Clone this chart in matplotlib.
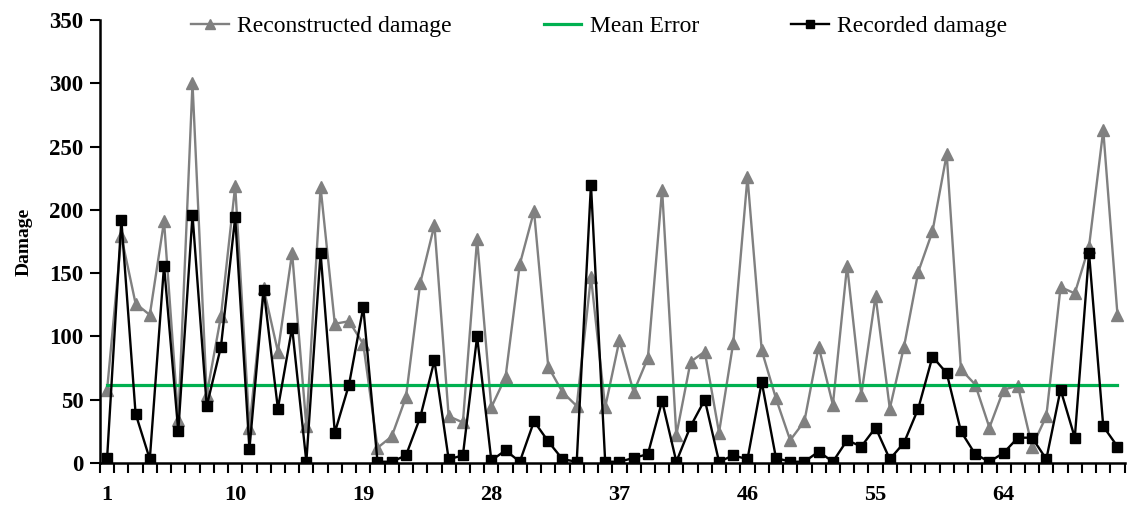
import matplotlib
matplotlib.use("Agg")
import matplotlib.pyplot as plt
import numpy as np

reconstructed = [58, 179, 126, 117, 191, 34, 300, 54, 116, 219,
                 28, 138, 88, 166, 29, 218, 110, 112, 94, 12,
                 21, 52, 142, 188, 37, 32, 177, 44, 68, 157,
                 199, 76, 56, 45, 147, 44, 97, 56, 83, 216,
                 22, 80, 88, 24, 95, 226, 89, 51, 18, 33,
                 92, 46, 156, 54, 132, 43, 92, 151, 183, 244,
                 74, 62, 28, 58, 61, 13, 37, 139, 134, 171,
                 263, 117]
recorded = [4, 192, 39, 3, 156, 25, 196, 45, 92, 194,
            11, 137, 43, 107, 1, 166, 24, 62, 123, 1,
            1, 6, 36, 81, 3, 6, 100, 2, 10, 1,
            33, 17, 3, 1, 220, 1, 1, 4, 7, 49,
            1, 29, 50, 1, 6, 3, 64, 4, 1, 1,
            9, 1, 18, 13, 28, 3, 16, 43, 84, 71,
            25, 7, 1, 8, 20, 20, 3, 58, 20, 166,
            29, 13]
mean_error = 62
x = np.arange(1, len(recorded) + 1)
xtick_labels = [1, 10, 19, 28, 37, 46, 55, 64]
yticks = [0, 50, 100, 150, 200, 250, 300, 350]

plt.rcParams['font.family'] = ['Liberation Serif', 'DejaVu Serif']

fig = plt.figure(figsize=(11.29, 5.07), dpi=100)
ax = fig.add_axes([100 / 1129, 1 - 463 / 507, 1024.6 / 1129, 443 / 507])

ax.plot(x, reconstructed, color='#808080', lw=1.7, marker='^', markersize=8.5,
        label='Reconstructed damage', zorder=2)
ax.plot(x, [mean_error] * len(x), color='#00b050', lw=2.3, label='Mean Error', zorder=3)
ax.plot(x, recorded, color='black', lw=1.7, marker='s', markersize=7.5,
        label='Recorded damage', zorder=4)

ax.set_xlim(0.5, len(x) + 0.5)
ax.set_ylim(0, 350)
ax.set_yticks(yticks)
ax.set_yticklabels([str(v) for v in yticks], fontsize=16.5, fontweight='bold')
ax.set_xticks(xtick_labels)
ax.set_xticklabels([str(v) for v in xtick_labels], fontsize=16, fontweight='bold')
ax.set_xticks(np.arange(0.5, len(x) + 1, 1), minor=True)
ax.tick_params(axis='x', which='major', length=0, pad=16)
ax.tick_params(axis='x', which='minor', length=7, width=1.5, direction='out')
ax.tick_params(axis='y', which='major', length=7, width=1.5, direction='out', pad=5)

for s in ['top', 'right']:
    ax.spines[s].set_visible(False)
for s in ['left', 'bottom']:
    ax.spines[s].set_linewidth(1.8)

ax.set_ylabel('Damage', fontsize=14, fontweight='bold', labelpad=12)

leg = ax.legend(loc='upper center', bbox_to_anchor=(0.487, 1.058), ncol=3,
                frameon=False, fontsize=17, handlelength=1.6, columnspacing=3.9,
                handletextpad=0.35, markerscale=0.8)

fig.savefig('out.png', dpi=100)
